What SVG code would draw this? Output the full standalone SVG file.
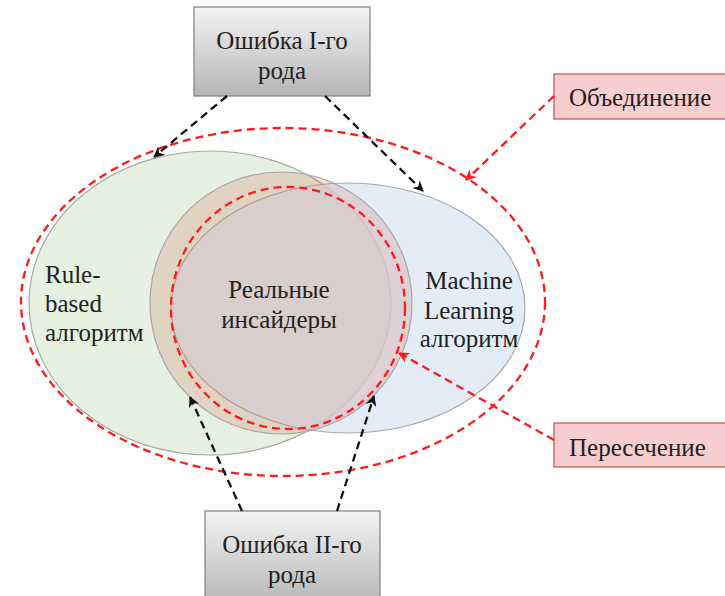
<svg xmlns="http://www.w3.org/2000/svg" width="725" height="596" viewBox="0 0 725 596">
<style>
  .t { font-family: "Liberation Serif", "Times New Roman", serif; font-size: 25px; fill: #222; }
  .c { text-anchor: middle; }
  .set { stroke: #a8a8a8; stroke-width: 1.2; }
  .blk { fill: none; stroke: #111; stroke-width: 2.3; stroke-dasharray: 8 5; }
  .red { fill: none; stroke: #ff1a1a; stroke-width: 2.3; stroke-dasharray: 8 5; }
  .gbox { fill: url(#gray); stroke: #7f7f7f; stroke-width: 1.2; }
  .pbox { fill: #f8cdcd; stroke: #c0504d; stroke-width: 1.2; }
</style>
<defs>
  <linearGradient id="gray" x1="0" y1="0" x2="0" y2="1">
    <stop offset="0" stop-color="#f4f4f4"/>
    <stop offset="1" stop-color="#b5b5b5"/>
  </linearGradient>
  <marker id="ab" viewBox="0 0 10 10" refX="9" refY="5" markerWidth="11" markerHeight="11" orient="auto" markerUnits="userSpaceOnUse">
    <path d="M0,0 L10,5 L0,10 L3,5 z" fill="#111"/>
  </marker>
  <marker id="ar" viewBox="0 0 10 10" refX="9" refY="5" markerWidth="11" markerHeight="11" orient="auto" markerUnits="userSpaceOnUse">
    <path d="M0,0 L10,5 L0,10 L3,5 z" fill="#ff1a1a"/>
  </marker>
</defs>
<g id="rule-based">
  <ellipse class="set" cx="210" cy="303" rx="181" ry="152" fill="#e4f0dc" fill-opacity="0.9"/>
  <text class="t" x="45" y="283">Rule-</text>
  <text class="t" x="45" y="312">based</text>
  <text class="t" x="45" y="341">алгоритм</text>
</g>
<g id="ml">
  <ellipse class="set" cx="348" cy="308" rx="177" ry="125" fill="#dae5f4" fill-opacity="0.75"/>
  <text class="t c" x="469" y="289">Machine</text>
  <text class="t c" x="469" y="319">Learning</text>
  <text class="t c" x="469" y="347">алгоритм</text>
</g>
<g id="real">
  <circle class="set" cx="281" cy="303" r="131" fill="#d07a6a" fill-opacity="0.25"/>
  <text class="t c" x="279" y="298">Реальные</text>
  <text class="t c" x="279" y="328">инсайдеры</text>
</g>
<g id="union-shape">
  <ellipse class="red" cx="283" cy="302" rx="262" ry="174"/>
</g>
<g id="intersection-shape">
  <ellipse class="red" cx="288" cy="308" rx="117" ry="121"/>
</g>
<g id="err1">
  <rect class="gbox" x="194" y="7" width="176" height="89"/>
  <text class="t c" x="282" y="49">Ошибка I-го</text>
  <text class="t c" x="282" y="79">рода</text>
</g>
<g id="err2">
  <rect class="gbox" x="205" y="511" width="175" height="95"/>
  <text class="t c" x="292" y="553">Ошибка II-го</text>
  <text class="t c" x="292" y="583">рода</text>
</g>
<g id="union">
  <rect class="pbox" x="554" y="74" width="178" height="45"/>
  <text class="t" x="569" y="106">Объединение</text>
</g>
<g id="intersection">
  <rect class="pbox" x="554" y="423" width="178" height="44"/>
  <text class="t" x="569" y="456">Пересечение</text>
</g>
<g id="connectors">
  <line class="blk" x1="227" y1="96" x2="154" y2="157" marker-end="url(#ab)"/>
  <line class="blk" x1="325" y1="96" x2="423" y2="191" marker-end="url(#ab)"/>
  <line class="blk" x1="242" y1="511" x2="190" y2="397" marker-end="url(#ab)"/>
  <line class="blk" x1="337" y1="511" x2="374" y2="396" marker-end="url(#ab)"/>
  <line class="red" x1="554" y1="96" x2="466" y2="180" marker-end="url(#ar)"/>
  <line class="red" x1="554" y1="440" x2="399" y2="353" marker-end="url(#ar)"/>
</g>
</svg>
